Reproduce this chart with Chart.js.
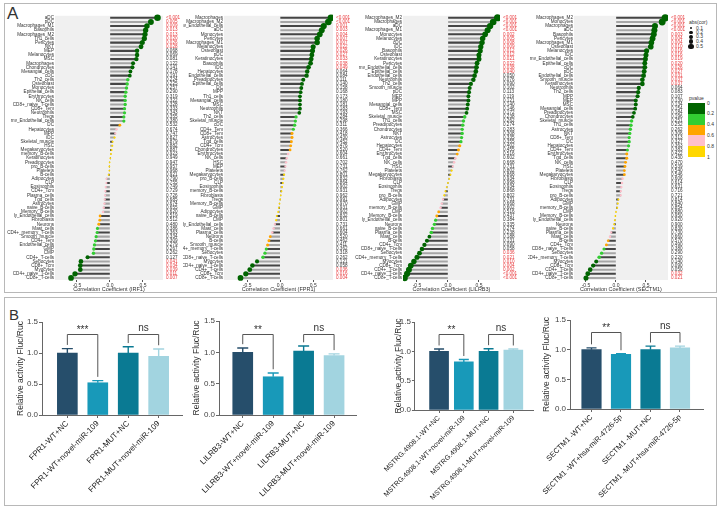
<!DOCTYPE html>
<html><head><meta charset="utf-8">
<script src="https://cdn.jsdelivr.net/npm/chart.js@4.4.1/dist/chart.umd.min.js"></script>
<style>
html,body{margin:0;padding:0;background:#fff;}
body{width:721px;height:507px;position:relative;overflow:hidden;font-family:"Liberation Sans",Arial,sans-serif;}
canvas{position:absolute;}
.box{position:absolute;border:1px solid #b8b8b8;}
.t{position:absolute;color:#333;white-space:nowrap;line-height:1;}
</style></head><body>
<div class="box" style="left:4px;top:3px;width:711px;height:288px"></div>
<div class="box" style="left:4px;top:297px;width:711px;height:207px"></div>
<div class="t" style="left:7px;top:5px;font-size:17px">A</div>
<div class="t" style="left:9px;top:307px;font-size:15px">B</div>
<canvas id="a1"></canvas><canvas id="a2"></canvas><canvas id="a3"></canvas><canvas id="a4"></canvas>
<canvas id="b1"></canvas><canvas id="b2"></canvas><canvas id="b3"></canvas><canvas id="b4"></canvas>
<div id="legend"></div>
<script>
// ---------------- DATA ----------------
const geneNames = ["IRF1","FPR1","LILRB3","SECTM1"];
const corTicks = [-0.5, 0, 0.5];
const sizeLegend = [0.1,0.2,0.3,0.4,0.5];
const pLegendTicks = ["0","0.2","0.4","0.6","0.8","1"];

const cells1 = ["aDC","pDC","Macrophages_M1","Basophils","Macrophages_M2","Th1_cells","Pericytes","NKT","MEP","Melanocytes","MSC","Macrophages","Chondrocytes","Mesangial_cells","cDC","Th2_cells","Osteoblast","Monocytes","Epithelial_cells","Erythrocytes","NK_cells","CD8+_naive_T-cells","CD8+_Tem","Neutrophils","Tregs","mv_Endothelial_cells","DC","Hepatocytes","MPP","iDC","Skeletal_muscle","HSC","Megakaryocytes","memory_B-cells","Keratinocytes","Preadipocytes","pro_B-cells","Platelets","B-cells","Adipocytes","CLP","Eosinophils","CD4+_Tcm","Plasma_cells","Tgd_cells","Astrocytes","naive_B-cells","Memory_B-cells","ly_Endothelial_cells","Fibroblasts","Neurons","Mast_cells","CD4+_memory_T-cells","Smooth_muscle","CD4+_Tem","Endothelial_cells","GMP","CMP","CD4+_T-cells","Sebocytes","CD8+_Tcm","Myocytes","CD4+_naive_T-cells","CD8+_T-cells"];
const cor1 = [0.72,0.62,0.56,0.54,0.53,0.52,0.49,0.47,0.41,0.41,0.40,0.35,0.34,0.31,0.30,0.27,0.26,0.25,0.24,0.23,0.23,0.23,0.22,0.22,0.21,0.21,0.15,0.10,0.08,0.07,0.04,0.035,0.025,0.015,0.005,-0.005,-0.01,-0.01,-0.02,-0.055,-0.055,-0.065,-0.07,-0.075,-0.08,-0.085,-0.095,-0.105,-0.15,-0.155,-0.17,-0.19,-0.195,-0.21,-0.22,-0.235,-0.245,-0.25,-0.34,-0.44,-0.45,-0.45,-0.53,-0.59];
const pval1 = ["<0.001","0.005","0.009","0.013","0.013","0.020","0.026","0.028","0.068","0.069","0.081","0.122","0.141","0.178","0.191","0.224","0.225","0.257","0.290","0.319","0.322","0.328","0.333","0.343","0.355","0.380","0.532","0.674","0.747","0.827","0.879","0.882","0.887","0.923","0.949","0.947","0.957","0.968","0.921","0.790","0.755","0.749","0.729","0.726","0.685","0.674","0.655","0.620","0.519","0.512","0.480","0.386","0.363","0.334","0.309","0.279","0.267","0.262","0.127","0.041","0.034","0.039","0.011","0.007"];

const cells2 = ["Macrophages","Macrophages_M2","mv_Endothelial_cells","aDC","Monocytes","Pericytes","Macrophages_M1","Melanocytes","Osteoblast","pDC","Keratinocytes","Basophils","iDC","Hepatocytes","Endothelial_cells","Preadipocytes","Epithelial_cells","DC","MPP","Th1_cells","Mesangial_cells","MSC","Neutrophils","NKT","Th2_cells","Skeletal_muscle","cDC","CD4+_Tem","CD8+_Tem","Astrocytes","Tgd_cells","CD4+_Tcm","Chondrocytes","Erythrocytes","NK_cells","HSC","MEP","Platelets","Megakaryocytes","pro_B-cells","CLP","Eosinophils","memory_B-cells","Fibroblasts","Tregs","Memory_B-cells","GMP","Adipocytes","naive_B-cells","CMP","ly_Endothelial_cells","Mast_cells","Plasma_cells","Neurons","B-cells","Smooth_muscle","CD4+_memory_T-cells","Sebocytes","CD8+_naive_T-cells","Myocytes","CD4+_naive_T-cells","CD4+_T-cells","CD8+_Tcm","CD8+_T-cells"];
const cor2 = [0.77,0.73,0.66,0.63,0.60,0.56,0.56,0.50,0.49,0.48,0.47,0.46,0.43,0.41,0.40,0.35,0.33,0.32,0.31,0.30,0.30,0.30,0.30,0.29,0.24,0.23,0.22,0.20,0.18,0.18,0.17,0.16,0.15,0.12,0.10,0.09,0.08,0.07,0.06,0.05,0.04,0.03,0.02,0.01,0.0,-0.01,-0.02,-0.03,-0.05,-0.06,-0.08,-0.10,-0.12,-0.15,-0.17,-0.19,-0.21,-0.23,-0.26,-0.35,-0.42,-0.46,-0.52,-0.60];
const pval2 = ["<0.001","<0.001","0.001","0.003","0.004","0.007","0.007","0.022","0.026","0.027","0.033","0.038","0.049","0.064","0.084","0.111","0.140","0.158","0.168","0.173","0.180","0.181","0.183","0.193","0.284","0.298","0.311","0.366","0.418","0.430","0.452","0.476","0.520","0.604","0.661","0.702","0.731","0.762","0.801","0.832","0.864","0.902","0.931","0.962","0.991","0.970","0.931","0.902","0.832","0.801","0.731","0.661","0.604","0.520","0.462","0.411","0.362","0.318","0.262","0.121","0.058","0.036","0.016","0.004"];

const cells3 = ["Macrophages_M2","Macrophages","aDC","Macrophages_M1","Monocytes","Melanocytes","cDC","iDC","Basophils","Osteoblast","Keratinocytes","Pericytes","mv_Endothelial_cells","Epithelial_cells","Endothelial_cells","Neutrophils","Th2_cells","Smooth_muscle","pDC","MEP","MPP","Mesangial_cells","CD8+_Tem","MSC","Skeletal_muscle","Th1_cells","Preadipocytes","Chondrocytes","NKT","Astrocytes","DC","Hepatocytes","CD4+_Tem","Erythrocytes","Tgd_cells","NK_cells","HSC","Platelets","Megakaryocytes","Fibroblasts","CLP","Eosinophils","Tregs","pro_B-cells","Adipocytes","GMP","memory_B-cells","CMP","Memory_B-cells","ly_Endothelial_cells","Neurons","naive_B-cells","Plasma_cells","Mast_cells","B-cells","CD4+_Tcm","CD8+_naive_T-cells","Sebocytes","CD4+_memory_T-cells","Myocytes","CD8+_Tcm","CD4+_T-cells","CD4+_naive_T-cells","CD8+_T-cells"];
const cor3 = [0.80,0.73,0.68,0.64,0.60,0.56,0.55,0.53,0.52,0.50,0.50,0.47,0.46,0.45,0.43,0.41,0.37,0.35,0.34,0.33,0.33,0.32,0.31,0.30,0.27,0.25,0.24,0.23,0.23,0.22,0.21,0.19,0.17,0.15,0.12,0.10,0.08,0.06,0.04,0.02,0.0,-0.02,-0.04,-0.06,-0.08,-0.10,-0.12,-0.15,-0.18,-0.20,-0.22,-0.25,-0.27,-0.30,-0.34,-0.38,-0.42,-0.46,-0.50,-0.55,-0.60,-0.63,-0.66,-0.70];
const pval3 = ["<0.001","<0.001","<0.001","<0.001","0.002","0.005","0.008","0.009","0.012","0.012","0.021","0.022","0.038","0.040","0.050","0.076","0.090","0.102","0.113","0.119","0.121","0.140","0.146","0.172","0.238","0.262","0.274","0.283","0.308","0.335","0.355","0.402","0.455","0.516","0.602","0.668","0.731","0.802","0.868","0.934","0.998","0.934","0.868","0.802","0.731","0.668","0.602","0.516","0.437","0.384","0.335","0.274","0.238","0.188","0.131","0.090","0.058","0.036","0.021","0.010","0.004","0.002","<0.001","<0.001"];

const cells4 = ["Macrophages_M2","Monocytes","Macrophages","aDC","Basophils","Pericytes","Macrophages_M1","Osteoblast","Melanocytes","iDC","mv_Endothelial_cells","Epithelial_cells","cDC","pDC","Endothelial_cells","Smooth_muscle","Keratinocytes","Neutrophils","Th2_cells","MPP","MEP","MSC","Mesangial_cells","Preadipocytes","Chondrocytes","Skeletal_muscle","Th1_cells","Astrocytes","NKT","CD8+_Tem","DC","Hepatocytes","CD4+_Tem","Erythrocytes","Tgd_cells","NK_cells","HSC","Platelets","Megakaryocytes","Fibroblasts","CLP","Eosinophils","Tregs","pro_B-cells","Adipocytes","GMP","memory_B-cells","CMP","Memory_B-cells","ly_Endothelial_cells","Neurons","naive_B-cells","Plasma_cells","Mast_cells","B-cells","CD4+_Tcm","CD8+_naive_T-cells","Sebocytes","CD4+_memory_T-cells","Myocytes","CD8+_Tcm","CD4+_T-cells","CD4+_naive_T-cells","CD8+_T-cells"];
const cor4 = [0.82,0.77,0.65,0.64,0.63,0.61,0.59,0.58,0.51,0.50,0.49,0.48,0.48,0.47,0.46,0.44,0.44,0.38,0.37,0.36,0.33,0.33,0.32,0.30,0.28,0.26,0.25,0.24,0.23,0.22,0.22,0.21,0.19,0.18,0.18,0.16,0.15,0.14,0.14,0.11,0.10,0.09,0.08,0.08,0.04,0.03,0.02,0.0,-0.01,-0.02,-0.03,-0.05,-0.08,-0.10,-0.13,-0.16,-0.20,-0.24,-0.28,-0.33,-0.38,-0.43,-0.47,-0.50];
const pval4 = ["<0.001","<0.001","<0.001","<0.001","0.003","0.004","0.004","0.010","0.016","0.016","0.019","0.020","0.026","0.027","0.031","0.037","0.037","0.064","0.083","0.107","0.130","0.134","0.154","0.184","0.196","0.251","0.252","0.262","0.306","0.313","0.327","0.363","0.383","0.422","0.430","0.470","0.539","0.540","0.546","0.606","0.614","0.631","0.716","0.721","0.814","0.840","0.854","0.880","0.950","0.920","0.900","0.830","0.730","0.660","0.570","0.490","0.380","0.290","0.220","0.140","0.090","0.050","0.032","0.021"];

const barCats1 = ["FPR1-WT+NC","FPR1-WT+novel-miR-109","FPR1-MUT+NC","FPR1-MUT+novel-miR-109"];
const barVals1 = [1.0,0.52,1.0,0.945];
const barErrs1 = [0.07,0.035,0.10,0.12];
const sigs1 = ["***","ns"];
const barCats2 = ["LILRB3-WT+NC","LILRB3-WT+novel-miR-109","LILRB3-MUT+NC","LILRB3-MUT+novel-miR-109"];
const barVals2 = [1.0,0.61,1.02,0.95];
const barErrs2 = [0.07,0.06,0.08,0.025];
const sigs2 = ["**","ns"];
const barCats3 = ["MSTRG.4908.1-WT+NC","MSTRG.4908.1-WT+novel-miR-109","MSTRG.4908.1-MUT+NC","MSTRG.4908.1-MUT+novel-miR-109"];
const barVals3 = [1.0,0.82,1.0,1.02];
const barErrs3 = [0.04,0.04,0.045,0.02];
const sigs3 = ["**","ns"];
const barCats4 = ["SECTM1 -WT+NC","SECTM1 -WT+hsa-miR-4726-5p","SECTM1 -MUT+NC","SECTM1 -MUT+hsa-miR-4726-5p"];
const barVals4 = [1.0,0.92,1.0,1.03];
const barErrs4 = [0.03,0.01,0.06,0.03];
const sigs4 = ["**","ns"];
const activityTicks = [0, 0.5, 1.0, 1.5];

// ---------------- STYLE ----------------
const FONT = '"Liberation Sans", Arial, sans-serif';
Chart.defaults.font.family = FONT;
const pColors = ['#006400','#32CD32','#FFA500','#FFC0CB','#FFD700'];
const barColors = ['#264e6b','#1899b9','#0a7a93','#a2d4e0'];
const pNum = s => parseFloat(String(s).replace('<',''));
const pBin = s => Math.min(4, Math.floor(pNum(s)/0.2));
const radius = v => 0.9 + 3.3*Math.abs(v);

const panelBg = {id:'panelBg', beforeDatasetsDraw(chart){
  const {ctx, chartArea:a} = chart; ctx.save(); ctx.fillStyle = '#f0f0f0';
  ctx.fillRect(a.left, a.top, a.right-a.left, a.bottom-a.top); ctx.restore();
}};

function place(cv, g){ cv.width=g.w; cv.height=g.h; cv.style.left=g.x+'px'; cv.style.top=g.y+'px'; }

function makeLolli(id, labels, values, pvals, gene, g){
  const cv = document.getElementById(id); place(cv, g);
  new Chart(cv, {
    type:'bar',
    data:{labels, datasets:[
      {type:'bar', indexAxis:'y', data:values, backgroundColor:values.map((v,i)=> i%2 ? '#a6a6a6' : '#454545'), barThickness:1.4, order:2},
      {type:'line', indexAxis:'y', data:values, showLine:false, pointRadius:values.map(radius), pointBackgroundColor:pvals.map(s=>pColors[pBin(s)]), pointBorderWidth:0, pointHoverRadius:0, order:1}
    ]},
    options:{
      indexAxis:'y', responsive:false, animation:false, events:[],
      layout:{padding:{top:g.pt, left:0, right:0, bottom:0}},
      plugins:{legend:{display:false}, tooltip:{enabled:false}},
      scales:{
        x:{type:'linear', min:g.min, max:g.max, offset:false,
           afterBuildTicks:s=>{ s.ticks = corTicks.map(v=>({value:v})); },
           ticks:{font:{size:5}, color:'#333', padding:1, callback:v=>Number(v).toFixed(1)},
           grid:{drawOnChartArea:false, tickLength:2, color:'#555'}, border:{display:false},
           title:{display:true, text:'Correlation Coefficient ('+gene+')', font:{size:5.5}, color:'#333', padding:{top:1,bottom:0}},
           afterFit:s=>{ s.height = g.ah; }},
        y:{type:'category', offset:true, ticks:{autoSkip:false, font:{size:4.6}, color:'#333', padding:1},
           grid:{display:false, drawTicks:false, tickLength:0}, border:{display:false}, afterFit:s=>{ s.width = g.lw; }},
        p:{type:'category', labels:pvals, position:'right', offset:true,
           ticks:{autoSkip:false, font:{size:4.6}, padding:3, color:c=> pNum(pvals[c.index]) < 0.05 ? '#e8383b' : '#333'},
           grid:{display:false, drawTicks:false, tickLength:0}, border:{display:false}, afterFit:s=>{ s.width = g.pw; }}
      }
    },
    plugins:[panelBg]
  });
}

function makeBar(id, cats, vals, errs, sigs, g){
  const cv = document.getElementById(id); place(cv, g);
  const deco = {id:'deco', afterDatasetsDraw(chart){
    const ctx = chart.ctx, meta = chart.getDatasetMeta(0), ys = chart.scales.y;
    ctx.save();
    ctx.lineWidth = 1.4;
    vals.forEach((v,i)=>{
      const x = meta.data[i].x, y0 = ys.getPixelForValue(v), y1 = ys.getPixelForValue(v+errs[i]);
      ctx.strokeStyle = barColors[i];
      ctx.beginPath(); ctx.moveTo(x, y0); ctx.lineTo(x, y1);
      ctx.moveTo(x-g.cap/2, y1); ctx.lineTo(x+g.cap/2, y1); ctx.stroke();
    });
    ctx.strokeStyle = '#555'; ctx.lineWidth = 1; ctx.fillStyle = '#333';
    ctx.font = '10px ' + FONT; ctx.textAlign = 'center'; ctx.textBaseline = 'bottom';
    sigs.forEach((txt,k)=>{
      const a = 2*k, b = 2*k+1;
      const xa = meta.data[a].x, xb = meta.data[b].x, yt = Math.round(ys.getPixelForValue(g.br))+0.5;
      const ya = ys.getPixelForValue(vals[a]+errs[a]+g.gap), yb = ys.getPixelForValue(vals[b]+errs[b]+g.gap);
      ctx.beginPath(); ctx.moveTo(xa, ya); ctx.lineTo(xa, yt); ctx.lineTo(xb, yt); ctx.lineTo(xb, yb); ctx.stroke();
      ctx.fillText(txt, (xa+xb)/2, yt - (txt==='ns' ? 1 : -1));
    });
    ctx.restore();
  }};
  new Chart(cv, {
    type:'bar',
    data:{datasets:[{data:vals.map((v,i)=>({x:i+1, y:v})), backgroundColor:barColors, barThickness:g.bw}]},
    options:{
      responsive:false, animation:false, events:[],
      layout:{padding:{top:g.pt, right:g.pr, left:0, bottom:0}},
      plugins:{legend:{display:false}, tooltip:{enabled:false}},
      scales:{
        x:{type:'linear', min:g.min, max:g.max, offset:false,
           afterBuildTicks:s=>{ s.ticks = cats.map((c,i)=>({value:i+1})); },
           ticks:{minRotation:45, maxRotation:45, font:{size:g.fx}, color:'#222', padding:1, callback:(v,i)=>cats[i]},
           grid:{drawOnChartArea:false, tickLength:3, color:'#666', offset:false},
           border:{display:true, color:'#666', width:1},
           afterFit:s=>{ s.height = g.ah; }},
        y:{min:0, max:1.5,
           afterBuildTicks:s=>{ s.ticks = activityTicks.map(v=>({value:v})); },
           ticks:{font:{size:8}, color:'#444', padding:1, callback:v=>Number(v).toFixed(1)},
           grid:{drawOnChartArea:false, tickLength:3, color:'#666'},
           border:{display:true, color:'#666', width:1},
           title:{display:true, text:'Relative activity Fluc/Ruc', font:{size:8.5}, color:'#333', padding:{top:0,bottom:0}},
           afterFit:s=>{ s.width = g.lw; }}
      }
    },
    plugins:[deco]
  });
}

// ---------------- LAYOUT ----------------
makeLolli('a1', cells1, cor1, pval1, geneNames[0], {x:5,  y:10, w:177, h:283, lw:50, pw:19, pt:3, ah:13, min:-0.833, max:0.803});
makeLolli('a2', cells2, cor2, pval2, geneNames[1], {x:183,y:10, w:167, h:283, lw:41, pw:17, pt:3, ah:13, min:-0.85, max:0.80});
makeLolli('a3', cells3, cor3, pval3, geneNames[2], {x:352,y:10, w:165, h:283, lw:51, pw:17, pt:3, ah:13, min:-0.726, max:0.84});
makeLolli('a4', cells4, cor4, pval4, geneNames[3], {x:528,y:10, w:157, h:283, lw:46, pw:17, pt:3, ah:13, min:-0.70, max:0.867});

makeBar('b1', barCats1, barVals1, barErrs1, sigs1, {x:16, y:300, w:172, h:200, lw:26, pr:6, pt:22, ah:85, min:0.167, max:4.767, bw:20, cap:11, fx:8, br:1.3, gap:0.06});
makeBar('b2', barCats2, barVals2, barErrs2, sigs2, {x:192,y:300, w:170, h:200, lw:27, pr:6, pt:21, ah:85, min:0.22, max:4.72, bw:20, cap:11, fx:8, br:1.3, gap:0.06});
makeBar('b3', barCats3, barVals3, barErrs3, sigs3, {x:380,y:300, w:160, h:200, lw:21, pr:7, pt:22, ah:90, min:0.024, max:4.795, bw:19, cap:10, fx:7, br:1.3, gap:0.06});
makeBar('b4', barCats4, barVals4, barErrs4, sigs4, {x:542,y:300, w:170, h:200, lw:28, pr:9, pt:20, ah:91, min:0.271, max:4.78, bw:19.5, cap:10, fx:7.5, br:1.3, gap:0.06});

// legend (size + pvalue)
(function(){
  const L = document.getElementById('legend');
  let h = '<div class="t" style="left:689px;top:20px;font-size:5px">abs(cor)</div>';
  const ys = [28,32.3,36.7,41.5,46.3];
  sizeLegend.forEach((v,i)=>{
    const r = radius(v);
    h += `<div style="position:absolute;left:${691-r}px;top:${ys[i]-r}px;width:${2*r}px;height:${2*r}px;border-radius:50%;background:#111"></div>`;
    h += `<div class="t" style="left:696px;top:${ys[i]-2.5}px;font-size:5px">${v}</div>`;
  });
  h += '<div class="t" style="left:689px;top:96px;font-size:5px">pvalue</div>';
  pColors.forEach((c,i)=>{
    h += `<div style="position:absolute;left:688px;top:${103+i*10.8}px;width:17px;height:10.8px;background:${c}"></div>`;
  });
  pLegendTicks.forEach((t,i)=>{
    h += `<div class="t" style="left:707px;top:${103+i*10.8-2.5}px;font-size:5px">${t}</div>`;
  });
  L.innerHTML = h;
})();
</script>
</body></html>
